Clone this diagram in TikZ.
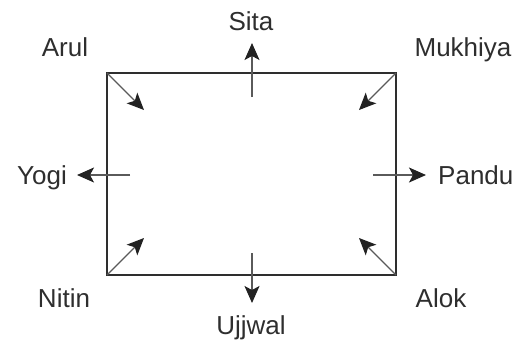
\documentclass[tikz,border=0pt]{standalone}
\usepackage{fontspec}
\setmainfont{Liberation Sans}
\usetikzlibrary{arrows.meta}
\definecolor{ink}{HTML}{2E2E2E}
\definecolor{shaft}{HTML}{5A5A5A}
\definecolor{head}{HTML}{222222}
\begin{document}
\begin{tikzpicture}[x=1pt,y=-1pt,
  lbl/.style={font=\fontsize{26}{30}\selectfont, text=ink, inner sep=0pt},
  tip/.style={-{Stealth[length=17pt,width=15pt,inset=4pt,color=head]}},
  arr/.style={draw=shaft, line width=1.4pt, tip},
  diag/.style={draw=shaft, line width=1.1pt, tip},
  box/.style={draw=ink, line width=1.7pt}]
\useasboundingbox (0,0) rectangle (516,341);
\coordinate (tl) at (107,73);
\coordinate (tr) at (396,73);
\coordinate (br) at (396,275);
\coordinate (bl) at (107,275);
\draw[box] (tl) -- (tr) -- (br) -- (bl) -- cycle;
% corner arrows
\coordinate (tlE) at (144,110);
\coordinate (trE) at (359,110);
\coordinate (blE) at (144,238);
\coordinate (brE) at (359,238);
\draw[diag] (tl) -- (tlE);
\draw[diag] (tr) -- (trE);
\draw[diag] (bl) -- (blE);
\draw[diag] (br) -- (brE);
% side arrows
\coordinate (sS) at (252,97);  \coordinate (sE) at (252,43);
\coordinate (uS) at (252,253); \coordinate (uE) at (252,303);
\coordinate (yS) at (130,175); \coordinate (yE) at (77,175);
\coordinate (pS) at (373,175); \coordinate (pE) at (426,175);
\draw[arr] (sS) -- (sE);
\draw[arr] (uS) -- (uE);
\draw[arr] (yS) -- (yE);
\draw[arr] (pS) -- (pE);
% labels
\node[lbl, anchor=base] (sita) at (251,30) {Sita};
\node[lbl, anchor=base] (ujjwal) at (251,334) {Ujjwal};
\node[lbl, anchor=base east] (yogi) at (67,184) {Yogi};
\node[lbl, anchor=base west] (pandu) at (438,184) {Pandu};
\node[lbl, anchor=base] (arul) at (65,56) {Arul};
\node[lbl, anchor=base] (mukhiya) at (463,56) {Mukhiya};
\node[lbl, anchor=base] (nitin) at (64,307) {Nitin};
\node[lbl, anchor=base] (alok) at (441,307) {Alok};
\end{tikzpicture}
\end{document}
